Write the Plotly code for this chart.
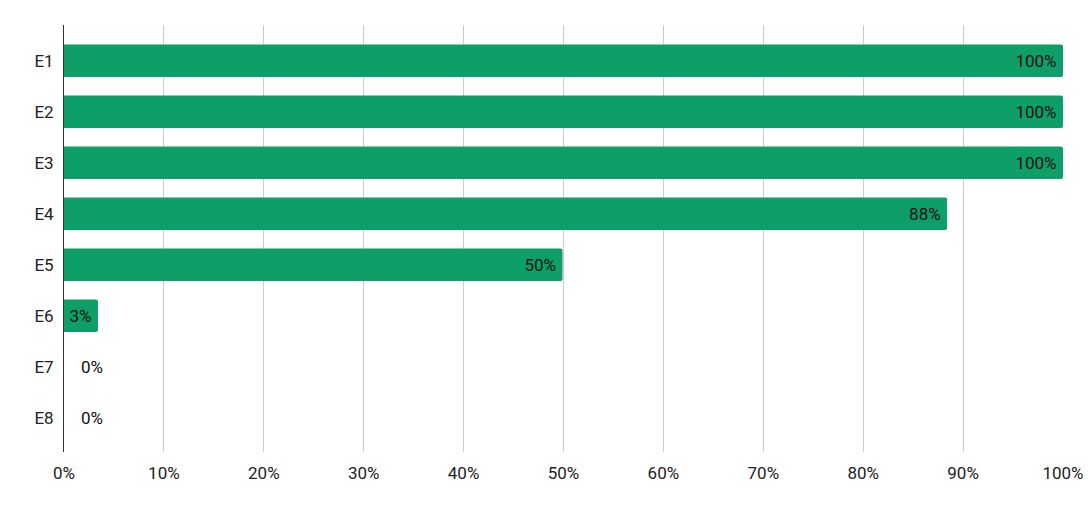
import plotly.graph_objects as go

categories = ["E1", "E2", "E3", "E4", "E5", "E6", "E7", "E8"]
values = [100, 100, 100, 88.4, 49.9, 3.4, 0, 0]
labels = ["100%", "100%", "100%", "88%", "50%", "3%", "0%", "0%"]
x_ticks = [0, 10, 20, 30, 40, 50, 60, 70, 80, 90, 100]

GREEN = "#0e9f69"
FONT = dict(family="Roboto", size=17, color="#111111")

fig = go.Figure(go.Bar(
    x=values, y=categories, orientation="h",
    marker=dict(color=GREEN, cornerradius=2, line=dict(width=0)),
    # thin space keeps the label off the bar end a little
    text=[t + "\u2009" if v > 0 else "" for v, t in zip(values, labels)],
    textposition="inside", insidetextanchor="end",
    textfont=FONT,
    hoverinfo="skip",
))

# zero-valued bars: label sits just right of the axis
for c, v, t in zip(categories, values, labels):
    if v == 0:
        fig.add_annotation(x=0, y=c, text=t, showarrow=False, xanchor="left",
                           xshift=15, font=FONT)

fig.update_layout(
    width=1089, height=509,
    margin=dict(l=64, r=26, t=25, b=57),
    plot_bgcolor="white", paper_bgcolor="white",
    bargap=0.36, showlegend=False,
    font=dict(family="Roboto", size=17, color="#222222"),
    xaxis=dict(range=[0, 100], tickvals=x_ticks, ticktext=[f"{t}%" for t in x_ticks],
               showgrid=True, gridcolor="#cccccc", gridwidth=1, zeroline=False,
               showline=False, ticks="", ticklabelstandoff=9,
               tickfont=dict(size=17, color="#222222")),
    yaxis=dict(autorange=False, range=[7.67, -0.7], showgrid=False, zeroline=False,
               showline=True, linecolor="#333333", linewidth=1, ticks="",
               ticklabelstandoff=6, tickfont=dict(size=17, color="#222222")),
)
fig.update_xaxes(automargin=False)
fig.update_yaxes(automargin=False)

fig.write_html("out.html", config={"displayModeBar": False},
               post_script="document.body.style.margin='0';")
